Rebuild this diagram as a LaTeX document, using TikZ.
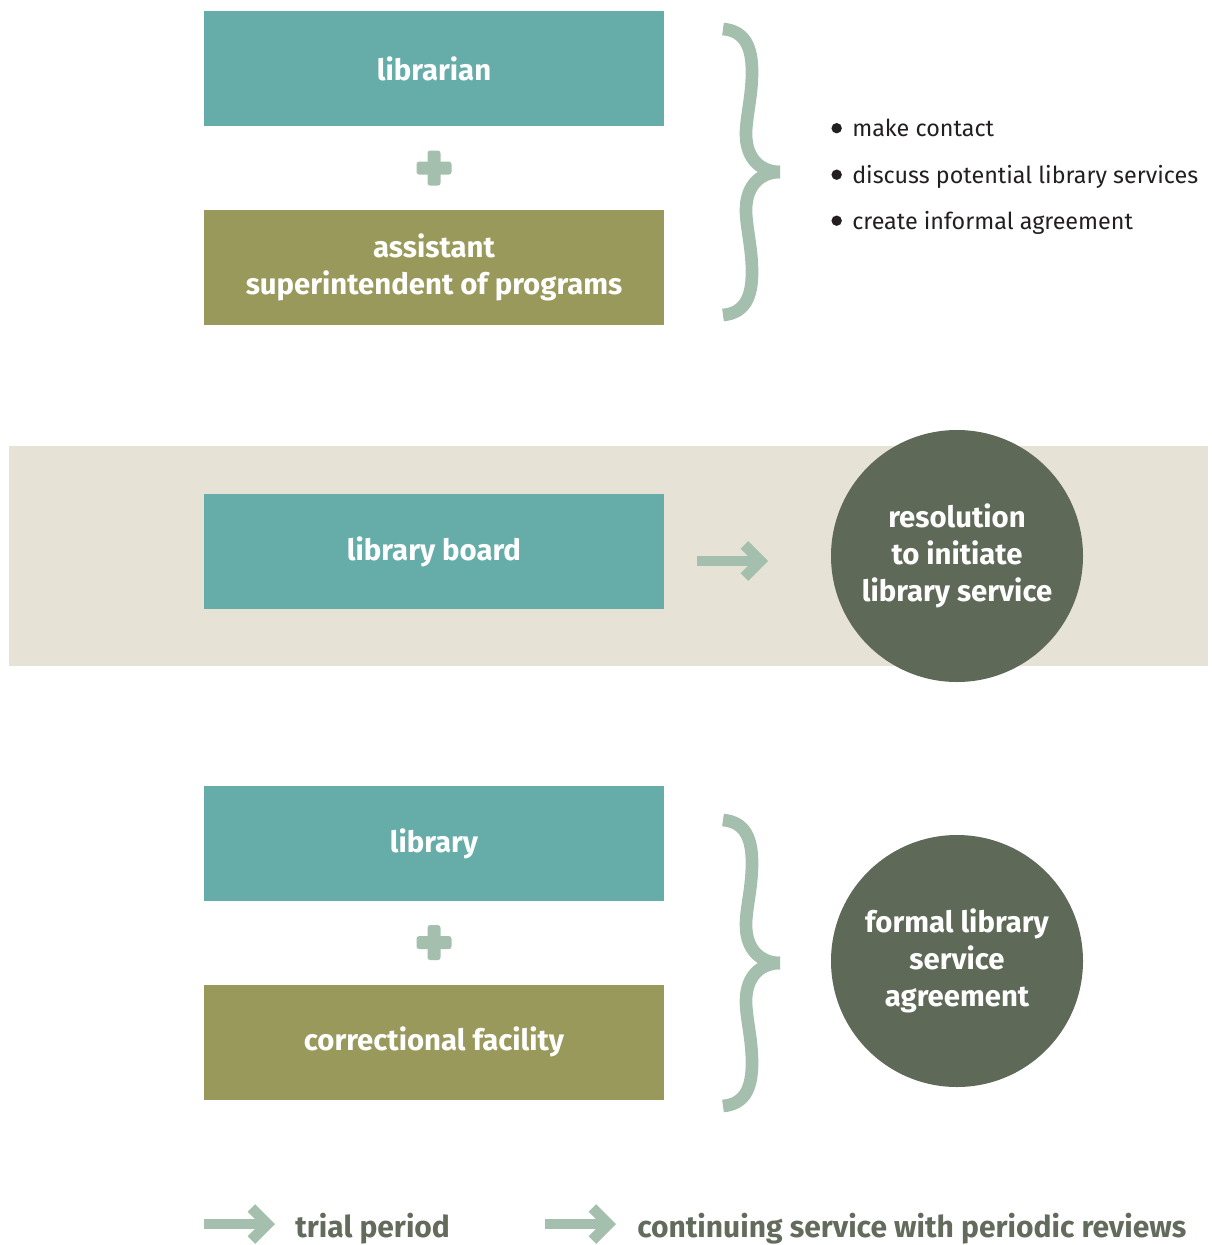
\documentclass[tikz,border=0pt]{standalone}
\usepackage{fontspec}
\setmainfont{Fira Sans}
\usetikzlibrary{positioning,arrows.meta}
\definecolor{tealbox}{HTML}{66ADAA}
\definecolor{olivebox}{HTML}{9A995C}
\definecolor{sage}{HTML}{A5BFAE}
\definecolor{darkdisc}{HTML}{5E6957}
\definecolor{band}{HTML}{E6E3D6}
\definecolor{bullettext}{HTML}{231F20}
\definecolor{legendtext}{HTML}{636B5C}
\tikzset{
	curly/.pic={
		\draw[sage, line width=9.5pt] (-57,-143) .. controls (-35,-141) and (-28,-125) .. (-28,-100)
			.. controls (-28,-75) and (-34,-55) .. (-34,-38) .. controls (-34,-12) and (-18,0) .. (0,0);
		\draw[sage, line width=9.5pt] (-57,143) .. controls (-35,141) and (-28,125) .. (-28,100)
			.. controls (-28,75) and (-34,55) .. (-34,38) .. controls (-34,12) and (-18,0) .. (0,0);
	},
	plus/.pic={
		\fill[sage, rounded corners=2pt] (-17.5,-6.5) rectangle (17.5,6.5);
		\fill[sage, rounded corners=2pt] (-6.5,-17.5) rectangle (6.5,17.5);
	}
}

\begin{document}
\begin{tikzpicture}[x=0.75pt, y=-0.75pt,
	box/.style={rectangle, minimum width=345pt, minimum height=86.25pt, inner sep=0pt,
		text=white, align=center, font=\fontsize{22}{27.75}\selectfont\bfseries},
	tealrect/.style={box, fill=tealbox},
	oliverect/.style={box, fill=olivebox},
	disc/.style={circle, fill=darkdisc, minimum size=189pt, inner sep=0pt,
		text=white, align=center, font=\fontsize{22}{27.75}\selectfont\bfseries},
	bullet/.style={anchor=base west, inner sep=0pt, text=bullettext, font=\fontsize{17.5}{20}\selectfont},
	legend/.style={anchor=base west, inner sep=0pt, text=legendtext, font=\fontsize{22.5}{26}\selectfont\bfseries},
	flow/.style={sage, line width=8pt, -{Straight Barb[length=12pt, width=24pt]}},
	node distance=62.25pt
	]
	\useasboundingbox (0,0) rectangle (1212,1245);

	% first step
	\node[tealrect] (librarian) at (434,69) {librarian};
	\node[oliverect, below=of librarian] (asst) {assistant\\superintendent of programs};
	\pic at ([yshift=-31pt]librarian.south) {plus};
	\pic at (780,172) {curly};
	\node[bullet] (b1) at (852,137) {make contact};
	\node[bullet] (b2) at (852,183.5) {discuss potential library services};
	\node[bullet] (b3) at (852,229.5) {create informal agreement};
	\foreach \b in {b1,b2,b3}
		\fill[bullettext] ([xshift=-11.5pt, yshift=6.6pt]\b.base west) circle (3.9pt);

	% second step
	\fill[band] (9,446) rectangle (1208,666);
	\node[tealrect] (board) at (434,551.5) {library board};
	\node[disc] (resolution) at (957,556) {resolution\\to initiate\\library service};
	\coordinate (a1) at (697,561);
	\coordinate (a2) at (768,561);
	\draw[flow] (a1) -- (a2);

	% third step
	\node[tealrect] (library) at (434,843.5) {library};
	\node[oliverect, below=of library] (facility) {correctional facility};
	\pic at ([yshift=-31pt]library.south) {plus};
	\pic at (780,963) {curly};
	\node[disc] (agreement) at (957,961) {formal library\\service\\agreement};

	% legend
	\coordinate (t1) at (204,1224);
	\coordinate (t2) at (275,1224);
	\draw[flow] (t1) -- (t2);
	\node[legend] (trial) at (295,1237) {trial period};
	\coordinate (c1) at (545,1224);
	\coordinate (c2) at (616,1224);
	\draw[flow] (c1) -- (c2);
	\node[legend] (continuing) at (637,1237) {continuing service with periodic reviews};
\end{tikzpicture}
\end{document}
